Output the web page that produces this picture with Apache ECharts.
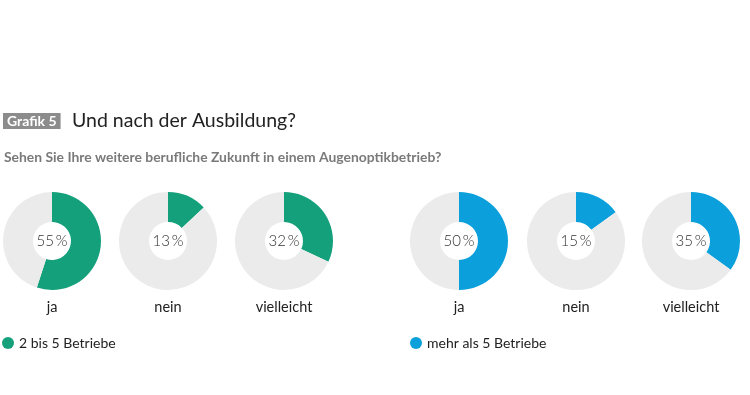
<!DOCTYPE html>
<html><head><meta charset="utf-8">
<script src="https://cdn.jsdelivr.net/npm/echarts@6/dist/echarts.min.js"></script>
<style>html,body{margin:0;padding:0;background:#fff}#c{width:750px;height:395px}</style>
</head><body><div id="c"></div>
<script>
const categories = ['ja', 'nein', 'vielleicht'];
const groupNames = ['2 bis 5 Betriebe', 'mehr als 5 Betriebe'];
const valuesSmall = [55, 13, 32];
const valuesLarge = [50, 15, 35];
const colors = ['#14a07b', '#0ba0db'];
const restColor = '#ebebeb';

const centersX = [[52, 168, 284], [459, 576, 691]];
const centerY = 241;
const FONT = 'Lato';

const groups = [valuesSmall, valuesLarge];
const series = [];
const titles = [
  {text: 'Grafik 5', left: 3, top: 113, padding: [1, 4, 1, 4], backgroundColor: '#8c8c8c',
   textStyle: {color: '#fff', fontSize: 14, fontWeight: 'bold', fontFamily: FONT}},
  {text: 'Und nach der Ausbildung?', left: 72, top: 111, padding: 0,
   textStyle: {color: '#222', fontSize: 19.5, fontWeight: 'normal', fontFamily: FONT}},
  {text: 'Sehen Sie Ihre weitere berufliche Zukunft in einem Augenoptikbetrieb?', left: 4, top: 151, padding: 0,
   textStyle: {color: '#7a7a7a', fontSize: 13.9, fontWeight: 'bold', fontFamily: FONT}}
];
groups.forEach((vals, g) => {
  vals.forEach((v, i) => {
    series.push({
      type: 'pie', radius: [19, 49], center: [centersX[g][i], centerY],
      startAngle: 90, clockwise: true, silent: true, avoidLabelOverlap: false,
      labelLine: {show: false},
      data: [
        {value: v, name: groupNames[g], itemStyle: {color: colors[g]},
         label: {show: true, position: 'center', formatter: v + '\u2009%',
                 color: '#333', fontSize: 15, fontFamily: FONT, fontWeight: 300}},
        {value: 100 - v, name: 'rest', itemStyle: {color: restColor}, label: {show: false}}
      ]
    });
    titles.push({text: categories[i], left: centersX[g][i], top: 300, textAlign: 'center', padding: 0,
      textStyle: {color: '#222', fontSize: 14.5, fontWeight: 'normal', fontFamily: FONT}});
  });
});

const chart = echarts.init(document.getElementById('c'), null, {renderer: 'canvas'});
chart.setOption({
  animation: false,
  title: titles,
  legend: [
    {data: [groupNames[0]], left: 2, top: 336, padding: 0, icon: 'circle', itemWidth: 12, itemHeight: 12, itemGap: 6,
     selectedMode: false, textStyle: {color: '#222', fontSize: 14, fontFamily: FONT}},
    {data: [groupNames[1]], left: 410, top: 336, padding: 0, icon: 'circle', itemWidth: 12, itemHeight: 12,
     selectedMode: false, textStyle: {color: '#222', fontSize: 14, fontFamily: FONT}}
  ],
  series: series
});
</script></body></html>
